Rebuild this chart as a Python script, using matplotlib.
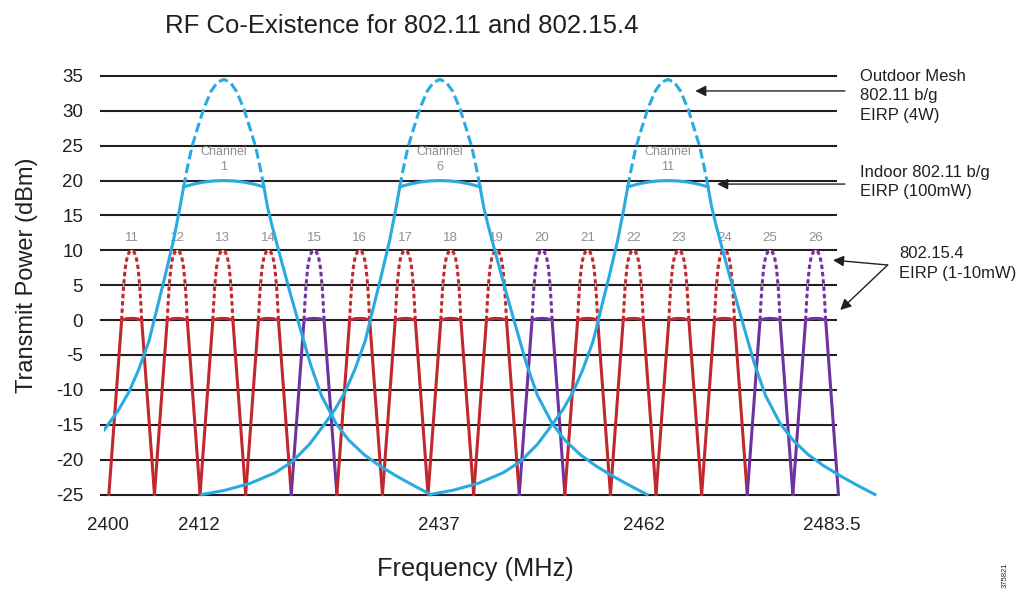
import matplotlib.pyplot as plt

plt.rcParams['font.family'] = ['Liberation Sans', 'DejaVu Sans']
plt.rcParams['axes.unicode_minus'] = False

# 802.15.4 channels 11..26
zb_channels = [11, 12, 13, 14, 15, 16, 17, 18, 19, 20, 21, 22, 23, 24, 25, 26]
zb_centers = [2405, 2410, 2415, 2420, 2425, 2430, 2435, 2440,
              2445, 2450, 2455, 2460, 2465, 2470, 2475, 2480]
# channels that fall between 802.11 channels 1 / 6 / 11
zb_clear = [False, False, False, False, True, False, False, False,
            False, True, False, False, False, False, True, True]
# one 802.15.4 channel mask, offsets in MHz from the centre
zb_mask_off = [-2.5, -1.1, -0.55, 0.0, 0.55, 1.1, 2.5]
zb_mask_dbm = [-25, 0, 0.2, 0.25, 0.2, 0, -25]
zb_top_off = [-1.1, -1.0, -0.88, -0.7, -0.5, -0.25, 0.0, 0.25, 0.5, 0.7, 0.88, 1.0, 1.1]
zb_top_dbm = [0, 2.5, 5, 7.5, 9, 9.8, 10, 9.8, 9, 7.5, 5, 2.5, 0]

# 802.11 b/g channels 1, 6, 11 (centres as drawn)
wifi_channels = [1, 6, 11]
wifi_centers = [2415.1, 2438.8, 2463.8]
# outdoor mesh (4W) envelope
wifi_left_off = [-26.1, -23.6, -20.8, -18.1, -16.2, -14.3, -12.7, -11.5,
                 -10.4, -9.3, -8.2, -7.2, -6.4, -5.5, -4.8, -4.4]
wifi_left_dbm = [-25, -24.4, -23.4, -21.9, -20.3, -17.8, -15, -12.8,
                 -10.3, -7, -3, 2.3, 6.5, 11.5, 16.2, 19.1]
wifi_top_off = [-4.4, -4.0, -3.5, -2.9, -2.2, -1.4, -0.7, 0.0,
                0.7, 1.4, 2.2, 2.9, 3.5, 4.0, 4.4]
wifi_top_dbm = [19.1, 21.8, 24.8, 27.4, 30.3, 32.8, 34.1, 34.5,
                34.1, 32.8, 30.3, 27.4, 24.8, 21.8, 19.1]
wifi_right_off = [4.4, 4.8, 5.3, 6.3, 7.3, 8.4, 9.5, 10.7,
                  12.3, 13.7, 15.4, 17.1, 19.0, 20.8, 22.7]
wifi_right_dbm = [19.1, 16.2, 13.5, 8.6, 3.8, -1.3, -6.3, -10.8,
                  -14.8, -17.2, -19.3, -20.9, -22.4, -23.7, -25]
# indoor (100mW) top
indoor_off = [-4.4, -3.3, -2.2, -1.1, 0.0, 1.1, 2.2, 3.3, 4.4]
indoor_dbm = [19.1, 19.5, 19.78, 19.95, 20, 19.95, 19.78, 19.5, 19.1]

power_ticks = [-25, -20, -15, -10, -5, 0, 5, 10, 15, 20, 25, 30, 35]
freq_labels = ['2400', '2412', '2437', '2462', '2483.5']
freq_label_pos = [2402.4, 2412.4, 2438.7, 2461.2, 2481.8]

BLUE = '#29abe2'
RED = '#c1272d'
PURPLE = '#6e32a0'
BLACK = '#231f20'
GREY = '#8f8f8f'

fig = plt.figure(figsize=(10.2, 5.92), dpi=100)
ax = fig.add_axes([0.10225, 0.1529, 0.8047, 0.7306])
ax.set_xlim(2402.0, 2492.0)
ax.set_ylim(-26, 36)
for s in ax.spines.values():
    s.set_visible(False)

# horizontal rules
ax.hlines(power_ticks, 2401.53, 2482.3, color=BLACK, lw=1.5, zorder=1, clip_on=False)

# 802.15.4 channels
for ch, c, clear in zip(zb_channels, zb_centers, zb_clear):
    col = PURPLE if clear else RED
    ax.plot([c + o for o in zb_mask_off], zb_mask_dbm, color=col, lw=2.2, zorder=2,
            solid_joinstyle='miter')
    ax.plot([c + o for o in zb_top_off], zb_top_dbm, color='#f3d3d6', lw=0.7, zorder=2)
    ax.plot([c + o for o in zb_top_off], zb_top_dbm, color=col, lw=2.2,
            linestyle=(0, (1.4, 1.0)), zorder=2)
    ax.text(c, 11.4, str(ch), ha='center', va='baseline', fontsize=9.5, color=GREY)

# 802.11 channels
for ch, c in zip(wifi_channels, wifi_centers):
    ax.plot([c + o for o in wifi_left_off], wifi_left_dbm, color=BLUE, lw=2.2, zorder=3)
    ax.plot([c + o for o in wifi_right_off], wifi_right_dbm, color=BLUE, lw=2.2, zorder=3)
    ax.plot([c + o for o in wifi_top_off], wifi_top_dbm, color=BLUE, lw=2.2,
            linestyle=(0, (3.2, 1.4)), zorder=3)
    ax.plot([c + o for o in indoor_off], indoor_dbm, color=BLUE, lw=2.2, zorder=3)
    ax.text(c, 24.9, 'Channel\n%d' % ch, ha='center', va='top', fontsize=9,
            color=GREY, linespacing=1.33)

# axes text
ax.set_yticks(power_ticks)
ax.tick_params(axis='y', length=0, pad=15.3, labelsize=13.5, labelcolor=BLACK)
ax.set_xticks(freq_label_pos, freq_labels)
ax.tick_params(axis='x', length=0, pad=11, labelsize=13.5, labelcolor=BLACK)
ax.set_ylabel('Transmit Power (dBm)', fontsize=17, color=BLACK)
ax.yaxis.set_label_coords(-0.0808, 0.524)
ax.set_xlabel('Frequency (MHz)', fontsize=18.3, color=BLACK)
ax.xaxis.set_label_coords(0.4516, -0.128)
ax.set_title('RF Co-Existence for 802.11 and 802.15.4', fontsize=18.5, color=BLACK,
             x=0.3627, y=1.0826, pad=0)

# callouts
arrow = dict(arrowstyle='-|>', color=BLACK, lw=1.0, mutation_scale=16,
             shrinkA=0, shrinkB=0)
ax.annotate('', xy=(2466.8, 32.85), xytext=(2483.2, 32.85), arrowprops=arrow,
            annotation_clip=False)
ax.annotate('', xy=(2469.2, 19.5), xytext=(2483.2, 19.5), arrowprops=arrow,
            annotation_clip=False)
ax.annotate('', xy=(2481.9, 8.6), xytext=(2487.9, 7.9), arrowprops=arrow,
            annotation_clip=False)
ax.annotate('', xy=(2482.7, 1.45), xytext=(2487.9, 7.9), arrowprops=arrow,
            annotation_clip=False)
ax.text(2484.85, 36.0, 'Outdoor Mesh\n802.11 b/g\nEIRP (4W)', ha='left', va='top',
        fontsize=12, color=BLACK, linespacing=1.37)
ax.text(2484.85, 22.3, 'Indoor 802.11 b/g\nEIRP (100mW)', ha='left', va='top',
        fontsize=12, color=BLACK, linespacing=1.37)
ax.text(2489.17, 10.6, '802.15.4\nEIRP (1-10mW)', ha='left', va='top',
        fontsize=12, color=BLACK, linespacing=1.37)

fig.text(1005 / 1020, 1 - 575 / 592, '375821', rotation=90, ha='center', va='center',
         fontsize=5.5, color=BLACK)

fig.savefig('out.png', dpi=100)
